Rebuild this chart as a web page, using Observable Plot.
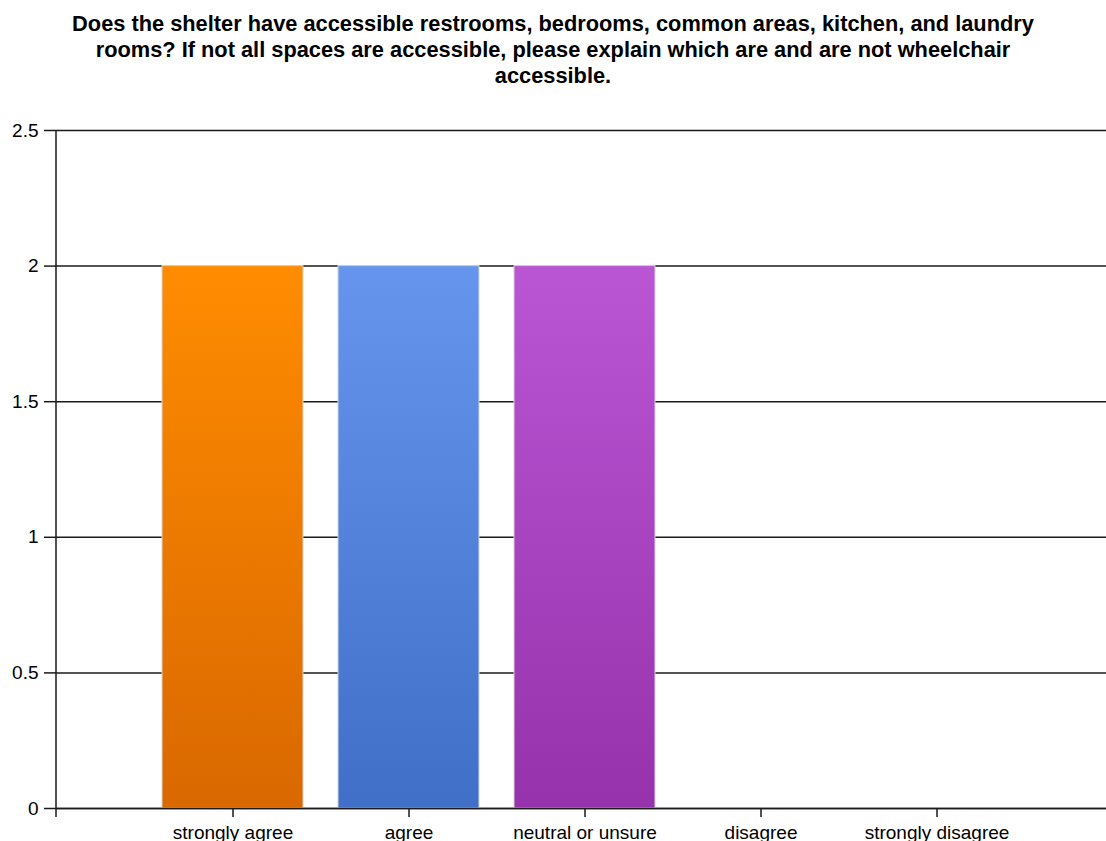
<!DOCTYPE html>
<html>
<head>
<meta charset="utf-8">
<script src="https://cdn.jsdelivr.net/npm/d3@7"></script>
<script src="https://cdn.jsdelivr.net/npm/@observablehq/plot@0.6"></script>
<style>
  body { margin: 0; background: #fff; width: 1106px; height: 841px; overflow: hidden; font-family: "Liberation Sans", Arial, sans-serif; }
  #title { box-sizing: border-box; height: 110px; padding-top: 11px; text-align: center; font-weight: bold; font-size: 21.8px; line-height: 26px; color: #000; white-space: nowrap; }
  #chart svg { display: block; }
</style>
</head>
<body>
<div id="title"></div>
<div id="chart"></div>
<script>
// Survey question, broken into the lines it is shown on
const titleLines = [
  "Does the shelter have accessible restrooms, bedrooms, common areas, kitchen, and laundry",
  "rooms? If not all spaces are accessible, please explain which are and are not wheelchair",
  "accessible."
];

// Response categories and number of responses
const categories = ["strongly agree", "agree", "neutral or unsure", "disagree", "strongly disagree"];
const counts = [2, 2, 2, 0, 0];

// Vertical gradient colours (top, bottom) for each answered category
const topColors = ["#ff8c00", "#6595ec", "#ba56d4"];
const bottomColors = ["#d96800", "#3f6fc6", "#9632ab"];

// Value axis ticks
const yTicks = [0, 0.5, 1, 1.5, 2, 2.5];

document.getElementById("title").innerHTML = titleLines.join("<br>");

const data = categories.map((category, i) => ({ i, category, count: counts[i] }));
const answered = data.filter(d => d.count > 0);

// Gradient definitions for the bars
const gradients = () => {
  const defs = d3.create("svg:defs");
  answered.forEach(d => {
    const g = defs.append("linearGradient")
      .attr("id", `bar-grad-${d.i}`)
      .attr("x1", 0).attr("y1", 0).attr("x2", 0).attr("y2", 1);
    g.append("stop").attr("offset", "0%").attr("stop-color", topColors[d.i]);
    g.append("stop").attr("offset", "100%").attr("stop-color", bottomColors[d.i]);
  });
  return defs.node();
};

// Left axis line, running a little past the baseline
const axisLine = (index, scales, values, dims) => {
  const x = dims.marginLeft;
  return d3.create("svg:line")
    .attr("x1", x).attr("x2", x)
    .attr("y1", dims.marginTop)
    .attr("y2", dims.height - dims.marginBottom + 9)
    .attr("stroke", "#1a1a1a")
    .attr("stroke-width", 1.5)
    .node();
};

const chart = Plot.plot({
  width: 1106,
  height: 731,
  marginLeft: 56,
  marginRight: 0,
  marginTop: 20,
  marginBottom: 33,
  style: { fontFamily: "'Liberation Sans', Arial, sans-serif", fontSize: "19px", color: "#000", background: "#fff" },
  x: { domain: categories, range: [56, 1112], paddingInner: 0.2, paddingOuter: 0.6, label: null },
  y: { domain: [0, 2.5], label: null },
  marks: [
    gradients,
    Plot.gridY(yTicks, { stroke: "#1a1a1a", strokeOpacity: 1, strokeWidth: 1.5 }),
    Plot.barY(answered, {
      x: "category",
      y: "count",
      fill: d => `url(#bar-grad-${d.i})`,
      stroke: "#d6d6d6",
      strokeWidth: 1
    }),
    Plot.ruleY([0], { stroke: "#1a1a1a", strokeWidth: 1.5 }),
    Plot.axisY(yTicks, { tickSize: 12, tickPadding: 6, tickFormat: d => String(d), stroke: "#1a1a1a", strokeWidth: 1.5, fontSize: 19, label: null }),
    Plot.axisX({ tickSize: 9, tickPadding: 8, stroke: "#1a1a1a", strokeWidth: 1.5, fontSize: 19, label: null }),
    axisLine
  ]
});

document.getElementById("chart").appendChild(chart);
</script>
</body>
</html>
